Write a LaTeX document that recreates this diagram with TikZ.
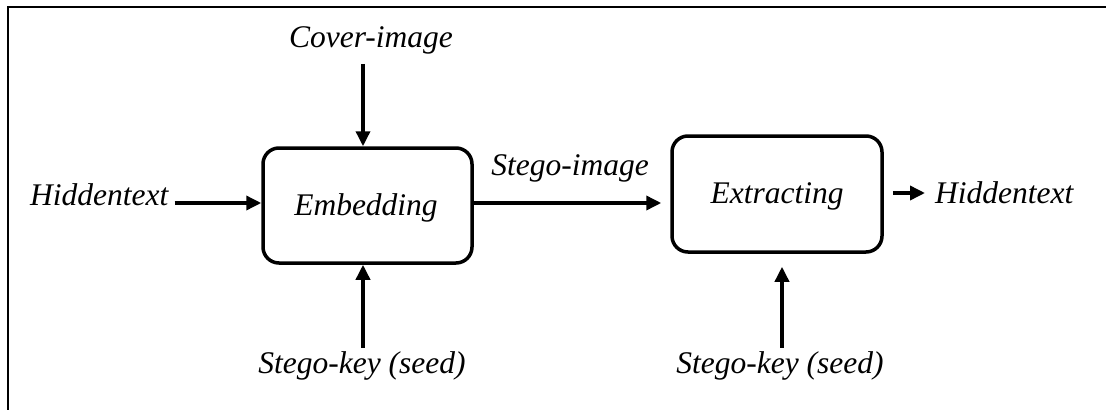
\documentclass[tikz,border=0pt]{standalone}
\usepackage{fontspec}
\setmainfont{Liberation Serif}
\usetikzlibrary{arrows.meta}
\begin{document}
\begin{tikzpicture}[x=1pt,y=-1pt,
  every node/.style={font=\fontsize{31.5}{36}\selectfont\itshape, inner sep=0pt},
  procbox/.style={draw, line width=3.5pt, rounded corners=16pt},
  lbl/.style={anchor=base},
  arr/.style={line width=3.5pt, -{Triangle[length=15pt,width=14pt]}},
  frame/.style={line width=2.5pt}]
\useasboundingbox (0,0) rectangle (1106,410);
\draw[frame] (1106,7) -- (8,7) -- (8,410);
% boxes
\node[procbox, minimum width=209pt, minimum height=115pt] (emb) at (367.5,205.5) {};
\node at (366,215) [lbl] (embt) {Embedding};
\node[procbox, minimum width=210pt, minimum height=116pt] (ext) at (777,194) {};
\node at (777,203) [lbl] (extt) {Extracting};
% labels
\node[lbl] (cover) at (371,47) {Cover-image};
\node[anchor=base west] (hid1) at (30,205) {Hiddentext};
\node[lbl] (simg) at (570,175) {Stego-image};
\node[anchor=base west] (hid2) at (935,203) {Hiddentext};
\node[lbl] (key1) at (362,373) {Stego-key (seed)};
\node[lbl] (key2) at (780,373) {Stego-key (seed)};
% connectors
\draw[arr] ([xshift=-4.5pt,yshift=-10pt]cover.south -| emb.north) -- ([xshift=-4.5pt]emb.north);
\draw[arr] ([xshift=6pt,yshift=2pt]hid1.base east) -- ([yshift=2pt]hid1.base east -| emb.west);
\draw[arr] ([yshift=2.5pt]emb.east) -- ([xshift=-9pt,yshift=2.5pt]emb.east -| ext.west);
\draw[arr] ([xshift=9pt,yshift=1pt]ext.east) -- ([xshift=-10pt,yshift=1pt]ext.east -| hid2.west);
\draw[arr] ([xshift=1pt,yshift=3pt]key1.north) -- ([xshift=1pt]key1.north |- emb.south);
\draw[arr] ([xshift=2pt,yshift=3pt]key2.north) -- ([xshift=2pt,yshift=-13pt]key2.north |- ext.south);
\end{tikzpicture}
\end{document}
